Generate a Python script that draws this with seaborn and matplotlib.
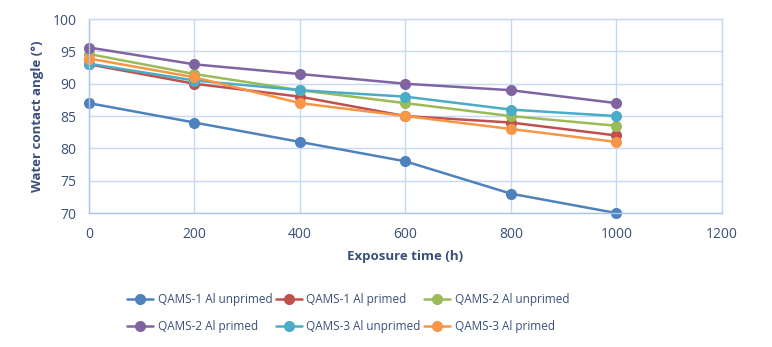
import matplotlib
matplotlib.use("Agg")
import matplotlib.pyplot as plt
import seaborn as sns
import pandas as pd

hours = [0, 200, 400, 600, 800, 1000]
qams1_unprimed = [87, 84, 81, 78, 73, 70]
qams1_primed = [93, 90, 88, 85, 84, 82]
qams2_unprimed = [94.6, 91.5, 89, 87, 85, 83.5]
qams2_primed = [95.6, 93, 91.5, 90, 89, 87]
qams3_unprimed = [93.1, 90.5, 89, 88, 86, 85]
qams3_primed = [93.9, 91, 87, 85, 83, 81]

series_names = ["QAMS-1 Al unprimed", "QAMS-1 Al primed", "QAMS-2 Al unprimed",
                "QAMS-2 Al primed", "QAMS-3 Al unprimed", "QAMS-3 Al primed"]
series_vals = [qams1_unprimed, qams1_primed, qams2_unprimed,
               qams2_primed, qams3_unprimed, qams3_primed]
colors = ["#4F81BD", "#C0504D", "#9BBB59", "#8064A2", "#4BACC6", "#F79646"]

rows = []
for name, vals in zip(series_names, series_vals):
    for h, v in zip(hours, vals):
        rows.append({"Exposure time (h)": h, "angle": v, "series": name})
df = pd.DataFrame(rows)

sns.set_theme(style="white")
plt.rcParams['font.family'] = ['Open Sans', 'DejaVu Sans']
text_color = "#3A4F7A"

fig = plt.figure(figsize=(7.72, 3.47), dpi=100)
ax = fig.add_axes([0.1153, 0.386, 0.8197, 0.559])

sns.lineplot(data=df, x="Exposure time (h)", y="angle", hue="series",
             hue_order=series_names, palette=colors, marker="o",
             markersize=8, markeredgewidth=0, linewidth=1.8, ax=ax,
             legend=True, clip_on=False)

ax.set_xlim(0, 1200)
ax.set_ylim(70, 100)
ax.set_xticks([0, 200, 400, 600, 800, 1000, 1200])
ax.set_yticks([70, 75, 80, 85, 90, 95, 100])
ax.grid(True, color="#C6D9F0", linewidth=1.0)
ax.set_axisbelow(True)
for s in ax.spines.values():
    s.set_color("#C6D9F0")
    s.set_linewidth(1.0)
ax.spines["left"].set_color("#A9C4E8")
ax.spines["bottom"].set_color("#A9C4E8")
ax.tick_params(axis="x", colors=text_color, labelsize=10, length=0, pad=10)
ax.tick_params(axis="y", colors=text_color, labelsize=10, length=0, pad=9)
ax.set_xlabel("Exposure time (h)", fontsize=9.5, fontweight="bold", color=text_color, labelpad=6)
ax.set_ylabel("Water contact angle (°)", fontsize=9.5, fontweight="bold", color=text_color, labelpad=6)

handles, labels = ax.get_legend_handles_labels()
ax.get_legend().remove()
order = [0, 3, 1, 4, 2, 5]
fig.legend([handles[i] for i in order], [labels[i] for i in order],
           loc="center", bbox_to_anchor=(0.451, 0.098), bbox_transform=fig.transFigure,
           ncol=3, frameon=False, fontsize=8.5, labelcolor=text_color,
           handlelength=2.2, columnspacing=0.3, handletextpad=0.4, labelspacing=1.2)

fig.savefig("out.png", dpi=100)
